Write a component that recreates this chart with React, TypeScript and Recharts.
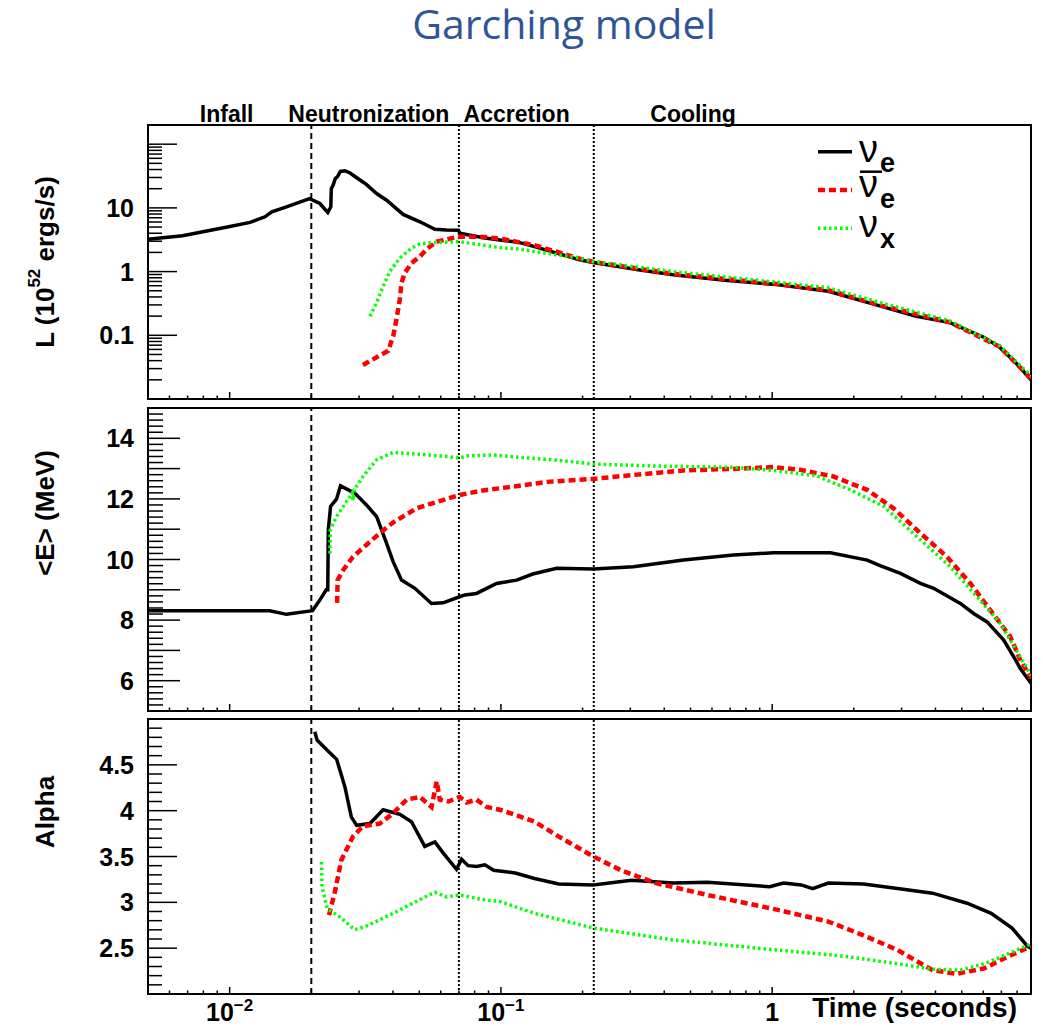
import React from "react";
import { LineChart, Line, XAxis, YAxis, ReferenceLine, ReferenceArea, Legend } from "recharts";

const FONT = "'Liberation Sans', Arial, Helvetica, sans-serif";
const W = 1043;

// shared time axis (seconds, log)
const timeDomain = [0.005, 9];

// phase boundaries (s) and the phase names written above the top pad
const phaseBounds = [0.02, 0.07, 0.22];
const phaseNames = ["Infall", "Neutronization", "Accretion", "Cooling"];
const phaseNameAt = [0.00975, 0.0326, 0.1143, 0.511];

// labelled decades on the time axis
const timeLabelled = [0.01, 0.1, 1];
const timeLabelBase = ["10", "10", "1"];
const timeLabelExp = ["\u22122", "\u22121", ""];

// ---- luminosity, 10^52 erg/s ----
const lumNueT = [0.005, 0.0067, 0.0097, 0.0119, 0.0135, 0.0143, 0.0162, 0.0197, 0.0215, 0.023, 0.0236, 0.0237, 0.0241, 0.0245, 0.025, 0.0256, 0.0266, 0.0277, 0.0294, 0.0319, 0.0348, 0.0379, 0.0436, 0.0503, 0.0571, 0.063, 0.0697, 0.0706, 0.086, 0.099, 0.1175, 0.133, 0.195, 0.219, 0.321, 0.431, 0.669, 1.04, 1.61, 2.51, 3.37, 4.52, 6.05, 6.91, 7.88, 9];
const lumNue = [3.22, 3.66, 4.95, 5.93, 7.24, 8.67, 10.4, 14.0, 11.7, 8.5, 10.4, 20.0, 23.1, 28.7, 31.2, 37.3, 38.2, 35.6, 29.7, 23.4, 16.8, 13.2, 7.89, 6.05, 4.61, 4.5, 4.45, 3.99, 3.4, 3.14, 2.85, 2.47, 1.53, 1.39, 1.07, 0.895, 0.73, 0.625, 0.492, 0.287, 0.2, 0.158, 0.0925, 0.0646, 0.0377, 0.02];

const lumNuebT = [0.031, 0.0348, 0.0384, 0.0401, 0.0412, 0.0424, 0.043, 0.0442, 0.0468, 0.0503, 0.0537, 0.058, 0.0697, 0.086, 0.099, 0.133, 0.195, 0.219, 0.431, 1.04, 1.61, 2.51, 4.52, 6.91, 9];
const lumNueb = [0.0342, 0.0451, 0.0571, 0.098, 0.178, 0.365, 0.664, 0.95, 1.36, 1.73, 2.33, 2.95, 3.53, 3.5, 3.3, 2.6, 1.6, 1.42, 0.92, 0.64, 0.51, 0.295, 0.16, 0.066, 0.021];

const lumNuxT = [0.0329, 0.0348, 0.0368, 0.0389, 0.0424, 0.0468, 0.0503, 0.0562, 0.0704, 0.086, 0.099, 0.1175, 0.133, 0.195, 0.219, 0.431, 1.04, 1.61, 2.51, 4.52, 6.91, 9];
const lumNux = [0.2, 0.324, 0.589, 1.0, 1.63, 2.33, 2.72, 2.85, 2.95, 2.6, 2.38, 2.25, 2.06, 1.63, 1.44, 1.0, 0.68, 0.556, 0.324, 0.168, 0.0684, 0.023];

// ---- mean energy, MeV ----
const enNueT = [0.005, 0.01405, 0.0162, 0.0202, 0.0215, 0.0227, 0.023, 0.0231, 0.02355, 0.02477, 0.02562, 0.02892, 0.03194, 0.0348, 0.03786, 0.04005, 0.04301, 0.04817, 0.05548, 0.06124, 0.0704, 0.0737, 0.0813, 0.0964, 0.1143, 0.131, 0.1605, 0.219, 0.308, 0.471, 0.72, 1.01, 1.64, 2.24, 2.5, 2.97, 3.52, 3.94, 4.94, 5.53, 6.2, 7.14, 7.77, 8.22, 9];
const enNue = [8.31, 8.31, 8.19, 8.31, 8.66, 9.0, 9.0, 10.97, 11.75, 11.99, 12.43, 12.19, 11.8, 11.42, 10.54, 9.93, 9.32, 9.05, 8.55, 8.57, 8.77, 8.83, 8.88, 9.21, 9.32, 9.52, 9.71, 9.69, 9.76, 9.98, 10.15, 10.22, 10.22, 9.98, 9.8, 9.54, 9.21, 9.05, 8.55, 8.22, 7.94, 7.34, 6.79, 6.4, 5.92];

const enNuebT = [0.0249, 0.025, 0.0262, 0.0285, 0.0319, 0.0358, 0.04, 0.0489, 0.0562, 0.0704, 0.086, 0.099, 0.1517, 0.219, 0.308, 0.471, 0.72, 1.01, 1.27, 1.68, 2.24, 2.8, 3.52, 4.41, 5.38, 6.37, 7.55, 8.22, 9];
const enNueb = [8.57, 9.32, 9.65, 10.09, 10.48, 10.87, 11.22, 11.69, 11.86, 12.13, 12.28, 12.35, 12.57, 12.66, 12.79, 12.94, 12.99, 13.05, 12.96, 12.74, 12.3, 11.69, 10.87, 10.09, 9.21, 8.33, 7.45, 6.68, 6.08];

const enNuxT = [0.0234, 0.0235, 0.0248, 0.0283, 0.0285, 0.0288, 0.031, 0.0348, 0.04, 0.0489, 0.063, 0.0704, 0.0748, 0.094, 0.114, 0.165, 0.219, 0.355, 0.72, 1.01, 1.46, 1.94, 2.58, 3.42, 4.54, 5.69, 6.94, 7.88, 9];
const enNux = [10.2, 10.98, 11.42, 12.2, 11.95, 12.3, 12.74, 13.29, 13.53, 13.48, 13.4, 13.35, 13.42, 13.45, 13.38, 13.27, 13.15, 13.09, 13.04, 12.94, 12.76, 12.3, 11.75, 10.75, 9.76, 8.77, 7.89, 7.06, 6.18];

// ---- pinching parameter alpha ----
const alNueT = [0.0206, 0.021, 0.0229, 0.0248, 0.0266, 0.0281, 0.0294, 0.0329, 0.0368, 0.0424, 0.0468, 0.0524, 0.0571, 0.0612, 0.0686, 0.0716, 0.0757, 0.0813, 0.0873, 0.094, 0.113, 0.133, 0.1634, 0.219, 0.303, 0.431, 0.578, 0.98, 1.1, 1.28, 1.41, 1.61, 2.17, 2.9, 3.9, 5.23, 6.42, 7.66, 8.74, 9];
const alNue = [4.86, 4.77, 4.66, 4.56, 4.26, 3.93, 3.84, 3.86, 4.01, 3.96, 3.88, 3.61, 3.66, 3.54, 3.36, 3.47, 3.4, 3.39, 3.41, 3.35, 3.32, 3.26, 3.2, 3.19, 3.24, 3.21, 3.22, 3.17, 3.21, 3.19, 3.15, 3.21, 3.2, 3.15, 3.1, 2.99, 2.88, 2.72, 2.52, 2.5];

const alNuebT = [0.02325, 0.0245, 0.0258, 0.0285, 0.031, 0.0358, 0.04, 0.0449, 0.0503, 0.0555, 0.058, 0.0595, 0.064, 0.0704, 0.0748, 0.0813, 0.0886, 0.099, 0.114, 0.133, 0.163, 0.219, 0.277, 0.372, 0.578, 1.04, 1.61, 2.17, 2.9, 3.9, 4.79, 6.05, 7.43, 9];
const alNueb = [2.86, 3.13, 3.46, 3.72, 3.83, 3.86, 3.97, 4.12, 4.15, 4.04, 4.32, 4.12, 4.1, 4.15, 4.09, 4.12, 4.04, 4.01, 3.95, 3.88, 3.72, 3.5, 3.35, 3.21, 3.08, 2.92, 2.79, 2.64, 2.48, 2.26, 2.22, 2.28, 2.41, 2.52];

const alNuxT = [0.0218, 0.0219, 0.0229, 0.0255, 0.0289, 0.0319, 0.04, 0.0503, 0.0571, 0.063, 0.0704, 0.086, 0.099, 0.133, 0.219, 0.431, 1.04, 1.87, 2.9, 3.9, 4.93, 6.05, 7.43, 8.74, 9];
const alNux = [3.44, 3.17, 2.93, 2.84, 2.7, 2.74, 2.88, 3.03, 3.11, 3.06, 3.08, 3.03, 3.01, 2.88, 2.72, 2.59, 2.48, 2.41, 2.33, 2.27, 2.26, 2.33, 2.44, 2.53, 2.55];

// y-axis labels per pad
const lumLabelled = [0.1, 1, 10];
const enLabelled = [6, 8, 10, 12, 14];
const alphaLabelled = [2.5, 3, 3.5, 4, 4.5];

// line look, ROOT style: solid / dashed / dotted
const flavours = [
  { key: "nue", color: "#000000", width: 3.5, dash: undefined as string | undefined, sub: "e", bar: false },
  { key: "nuebar", color: "#ff0000", width: 4.5, dash: "7 4", sub: "e", bar: true },
  { key: "nux", color: "#00ff00", width: 3.5, dash: "2.5 3", sub: "x", bar: false },
];

const toPoints = (t: number[], v: number[]) => t.map((x, i) => ({ t: x, v: v[i] }));

const isDecade = (v: number) => Math.abs(Math.log10(v) - Math.round(Math.log10(v))) < 1e-6;

const logTicks = (lo: number, hi: number) => {
  const out: number[] = [];
  for (let e = Math.floor(Math.log10(lo)); e <= Math.ceil(Math.log10(hi)); e++) {
    for (let m = 1; m <= 9; m++) {
      const v = +(m * Math.pow(10, e)).toPrecision(6);
      if (v >= lo - 1e-12 && v <= hi + 1e-12) out.push(v);
    }
  }
  return out;
};

const linTicks = (lo: number, hi: number, step: number) => {
  const out: number[] = [];
  const n = Math.round((hi - lo) / step);
  for (let i = 0; i <= n; i++) out.push(+(lo + i * step).toFixed(3));
  return out;
};

const timeTicks = logTicks(timeDomain[0], timeDomain[1]);

const TimeTick = ({ x, y, payload, withLabel }: any) => {
  const v = payload.value;
  const idx = timeLabelled.indexOf(v);
  const len = isDecade(v) ? 7 : 3.5;
  return (
    <g>
      <line x1={x} y1={y} x2={x} y2={y - len} stroke="#000" strokeWidth={1.5} />
      {withLabel && idx >= 0 && (
        <text x={x} y={y + 27} textAnchor="middle" fontFamily={FONT} fontWeight="bold" fontSize={25} fill="#000">
          {timeLabelBase[idx]}
          {timeLabelExp[idx] && (
            <tspan dy={-10} fontSize={17}>
              {timeLabelExp[idx]}
            </tspan>
          )}
        </text>
      )}
    </g>
  );
};

const ValueTick = ({ x, y, payload, isMajor, labelled, longLen, shortLen }: any) => {
  const v = payload.value;
  const lab = labelled.includes(v);
  return (
    <g>
      <line x1={x} y1={y} x2={x + (isMajor(v) ? longLen : shortLen)} y2={y} stroke="#000" strokeWidth={1.5} />
      {lab && (
        <text x={x - 14} y={y + 9} textAnchor="end" fontFamily={FONT} fontWeight="bold" fontSize={25} fill="#000">
          {String(v)}
        </text>
      )}
    </g>
  );
};

const AxisTitle = ({ cy, children }: any) => (
  <text
    x={45}
    y={cy}
    transform={`rotate(-90 45 ${cy})`}
    textAnchor="middle"
    dominantBaseline="central"
    fontFamily={FONT}
    fontWeight="bold"
    fontSize={26}
    fill="#000"
  >
    {children}
  </text>
);

const TimeTitle = ({ right, base }: any) => (
  <text x={right} y={base} textAnchor="end" fontFamily={FONT} fontWeight="bold" fontSize={28} fill="#000">
    Time (seconds)
  </text>
);

const LegendBox = () => {
  const lineY = [21.7, 60, 98.3];
  const nuBase = [31.7, 66.7, 106.7];
  const subDrop = [10, 11.6, 11.6];
  return (
    <svg width={110} height={125} style={{ overflow: "visible", display: "block" }}>
      {flavours.map((f, i) => (
        <g key={f.key}>
          <line x1={8} x2={42} y1={lineY[i]} y2={lineY[i]} stroke={f.color} strokeWidth={f.width} strokeDasharray={f.dash} />
          <text x={49} y={nuBase[i]} fontFamily={FONT} fontSize={38} fill="#000">
            ν
            <tspan dx={2} dy={subDrop[i]} fontSize={27} fontWeight="bold">
              {f.sub}
            </tspan>
          </text>
          {f.bar && <line x1={50} x2={72} y1={41.7} y2={41.7} stroke="#000" strokeWidth={2.5} />}
        </g>
      ))}
    </svg>
  );
};

function Panel({ top, height, margin, axisHeight, yScale, yDomain, yTicks, isMajor, labelled, longLen, shortLen, title, series, bottom, children }: any) {
  return (
    <div style={{ position: "absolute", left: 0, top }}>
      <LineChart width={W} height={height} margin={margin}>
        <XAxis
          dataKey="t"
          type="number"
          scale="log"
          domain={timeDomain}
          allowDataOverflow
          ticks={timeTicks}
          interval={0}
          tickSize={0}
          tickMargin={0}
          tickLine={false}
          axisLine={false}
          height={axisHeight}
          tick={(p: any) => <TimeTick {...p} withLabel={bottom} />}
          label={bottom ? <TimeTitle right={1017} base={height - 9} /> : undefined}
        />
        <YAxis
          type="number"
          scale={yScale}
          domain={yDomain}
          allowDataOverflow
          ticks={yTicks}
          interval={0}
          tickSize={0}
          tickMargin={0}
          tickLine={false}
          axisLine={false}
          width={148}
          tick={(p: any) => <ValueTick {...p} isMajor={isMajor} labelled={labelled} longLen={longLen} shortLen={shortLen} />}
          label={title}
        />
        <ReferenceArea x1={timeDomain[0]} x2={timeDomain[1]} y1={yDomain[0]} y2={yDomain[1]} fill="none" fillOpacity={0} stroke="#000" strokeWidth={2} />
        {phaseBounds.map((b, i) => (
          <ReferenceLine key={b} x={b} stroke="#000" strokeWidth={2} strokeDasharray={i === 0 ? "6 4" : "2 2"} />
        ))}
        {series.map((s: any, i: number) => (
          <Line
            key={flavours[i].key}
            data={s}
            dataKey="v"
            type="linear"
            stroke={flavours[i].color}
            strokeWidth={flavours[i].width}
            strokeDasharray={flavours[i].dash}
            dot={false}
            activeDot={false}
            isAnimationActive={false}
          />
        ))}
        {children}
      </LineChart>
    </div>
  );
}

export default function App() {
  const lumSeries = [toPoints(lumNueT, lumNue), toPoints(lumNuebT, lumNueb), toPoints(lumNuxT, lumNux)];
  const enSeries = [toPoints(enNueT, enNue), toPoints(enNuebT, enNueb), toPoints(enNuxT, enNux)];
  const alSeries = [toPoints(alNueT, alNue), toPoints(alNuebT, alNueb), toPoints(alNuxT, alNux)];

  return (
    <div style={{ position: "absolute", left: 0, top: 0, width: W, height: 1026, background: "#fff", overflow: "hidden" }}>
      <svg width={W} height={70} style={{ position: "absolute", left: 0, top: 0 }}>
        <text x={564} y={39} textAnchor="middle" fontFamily="'Open Sans', 'Noto Sans', sans-serif" fontSize={41} fill="#2f5597">
          Garching model
        </text>
      </svg>

      <Panel
        top={0}
        height={430}
        margin={{ top: 125, right: 12, bottom: 1, left: 0 }}
        axisHeight={30}
        yScale="log"
        yDomain={[0.01, 200]}
        yTicks={logTicks(0.01, 200)}
        isMajor={isDecade}
        labelled={lumLabelled}
        longLen={29}
        shortLen={14}
        title={
          <AxisTitle cy={262}>
            L (10
            <tspan dy={-11} fontSize={17}>
              52
            </tspan>
            <tspan dy={11}> ergs/s)</tspan>
          </AxisTitle>
        }
        series={lumSeries}
      >
        {phaseNames.map((name, i) => (
          <ReferenceLine
            key={name}
            x={phaseNameAt[i]}
            stroke="none"
            strokeOpacity={0}
            label={{ value: name, position: "top", offset: 3, fill: "#000", fontSize: 23, fontWeight: "bold", fontFamily: FONT }}
          />
        ))}
        <Legend
          layout="horizontal"
          verticalAlign="middle"
          align="center"
          wrapperStyle={{ position: "absolute", left: 810, top: 130, width: 110, height: 125 }}
          content={() => <LegendBox />}
        />
      </Panel>

      <Panel
        top={400}
        height={341}
        margin={{ top: 8, right: 12, bottom: 0, left: 0 }}
        axisHeight={30}
        yScale="linear"
        yDomain={[5, 15]}
        yTicks={linTicks(5, 15, 0.2)}
        isMajor={(v: number) => Number.isInteger(v)}
        labelled={enLabelled}
        longLen={32}
        shortLen={15}
        title={<AxisTitle cy={113}>&lt;E&gt; (MeV)</AxisTitle>}
        series={enSeries}
      />

      <Panel
        top={700}
        height={326}
        margin={{ top: 19, right: 12, bottom: 0, left: 0 }}
        axisHeight={32}
        yScale="linear"
        yDomain={[2, 5]}
        yTicks={linTicks(2, 5, 0.1)}
        isMajor={(v: number) => Math.abs(v * 2 - Math.round(v * 2)) < 1e-6}
        labelled={alphaLabelled}
        longLen={29}
        shortLen={14}
        title={<AxisTitle cy={112}>Alpha</AxisTitle>}
        series={alSeries}
        bottom
      />
    </div>
  );
}
